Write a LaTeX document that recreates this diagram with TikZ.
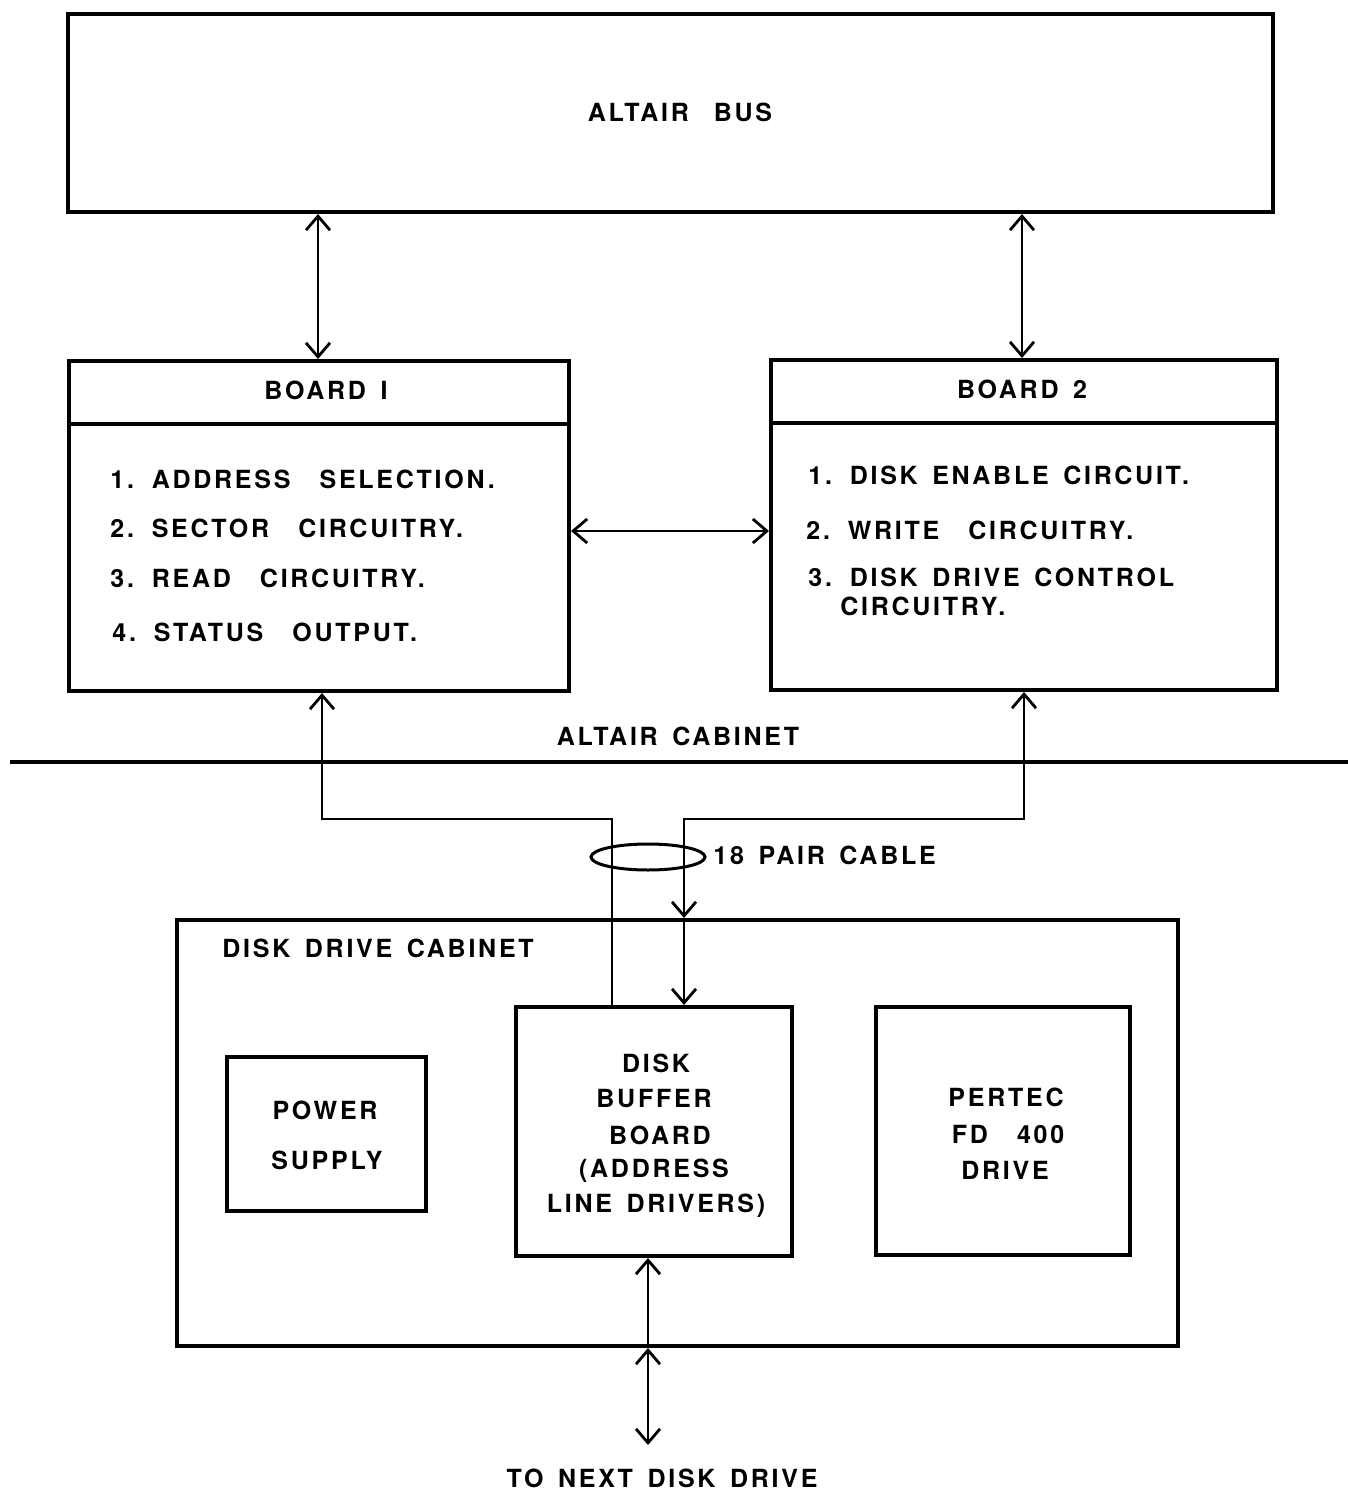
\documentclass[tikz,border=0pt]{standalone}
\usepackage{fontspec}
\newfontfamily\lettering{TeX Gyre Heros}[LetterSpace=11,WordSpace=1.5,UprightFont=*-Bold]
\usetikzlibrary{arrows.meta,shapes.geometric}
\begin{document}
\begin{tikzpicture}[x=0.5pt,y=-0.5pt,
  box/.style={draw,line width=2pt,inner sep=0pt,rectangle},
  lab/.style={font=\lettering\fontsize{12.5}{14}\selectfont,inner sep=0pt,anchor=base},
  labw/.style={lab,anchor=base west},
  arr/.style={line width=1.1pt,arrows={Straight Barb[length=7pt,width=12pt,line width=1.4pt]-Straight Barb[length=7pt,width=12pt,line width=1.4pt]}},
  arrs/.style={line width=1.1pt,arrows={Straight Barb[length=7pt,width=12pt,line width=1.4pt]-}},
  arre/.style={line width=1.1pt,arrows={-Straight Barb[length=7pt,width=12pt,line width=1.4pt]}},
  wire/.style={line width=1.1pt}]
\useasboundingbox (0,0) rectangle (1348,1493);
% boxes
\node[box,minimum width=602.5pt,minimum height=99pt] (bus) at (670.5,113) {};
\node[box,minimum width=250pt,minimum height=165pt] (b1) at (319,526) {};
\node[box,minimum width=253pt,minimum height=165pt] (b2) at (1024,525) {};
\node[box,minimum width=500.5pt,minimum height=213pt] (cab) at (677.5,1133) {};
\node[box,minimum width=99.5pt,minimum height=77pt] (ps) at (326.5,1134) {};
\node[box,minimum width=138pt,minimum height=124.5pt] (buf) at (654,1131.5) {};
\node[box,minimum width=127pt,minimum height=124pt] (fd) at (1003,1131) {};
% header dividers
\coordinate (d1) at (0,424);
\coordinate (d2) at (0,423);
\draw[line width=2pt] (b1.west |- d1) -- (b1.east |- d1);
\draw[line width=2pt] (b2.west |- d2) -- (b2.east |- d2);
% labels
\node[lab] (tbus) at (680,121) {ALTAIR\quad BUS};
\node[lab] (tb1) at (326,399) {BOARD I};
\node[lab] (tb2) at (1022,398) {BOARD 2};
\node[labw] (l11) at (110,488) {1. ADDRESS\ \ SELECTION.};
\node[labw] (l12) at (110,537) {2. SECTOR\ \ CIRCUITRY.};
\node[labw] (l13) at (110,587) {3. READ\ \ CIRCUITRY.};
\node[labw] (l14) at (112,641) {4. STATUS\ \ OUTPUT.};
\node[labw] (l21) at (808,484) {1. DISK ENABLE CIRCUIT.};
\node[labw] (l22) at (806,539) {2. WRITE\ \ CIRCUITRY.};
\node[labw] (l23) at (808,586) {3. DISK DRIVE CONTROL};
\node[labw] (l24) at (840,615) {CIRCUITRY.};
\node[lab] (tcab) at (678,745) {ALTAIR CABINET};
\node[labw] (tcable) at (713,864) {18 PAIR CABLE};
\node[labw] (tddc) at (222,957) {DISK DRIVE CABINET};
\node[lab] (p1) at (325,1119) {POWER};
\node[lab] (p2) at (327,1169) {SUPPLY};
\node[lab] (f1) at (656,1072) {DISK};
\node[lab] (f2) at (654,1107) {BUFFER};
\node[lab] (f3) at (660,1144) {BOARD};
\node[lab] (f4) at (654,1177) {(ADDRESS};
\node[lab] (f5) at (656,1212) {LINE DRIVERS)};
\node[lab] (g1) at (1006,1106) {PERTEC};
\node[lab] (g2) at (1008,1143) {FD\ \ 400};
\node[lab] (g3) at (1005,1179) {DRIVE};
\node[lab] (tnext) at (662,1487) {TO NEXT DISK DRIVE};
% cabinet separation line
\coordinate (cl) at (10,762);
\coordinate (cr) at (1348,762);
\draw[line width=1.6pt] (cl) -- (cr);
% connectors
\coordinate (x1) at (318,0);
\coordinate (x2) at (1022,0);
\coordinate (yh) at (0,531);
\draw[arr] (x1 |- bus.south) -- (x1 |- b1.north);
\draw[arr] (x2 |- bus.south) -- (x2 |- b2.north);
\draw[arr] (b1.east |- yh) -- (b2.west |- yh);
\coordinate (x3) at (322,0);
\coordinate (x4) at (1024,0);
\coordinate (k1) at (612,819);
\coordinate (k2) at (684,819);
\draw[arrs] (x3 |- b1.south) |- (k1) -- (k1 |- buf.north);
\draw[arr] (x4 |- b2.south) |- (k2) -- (k2 |- cab.north);
\draw[arre] (k2 |- cab.north) -- (k2 |- buf.north);
\node[draw,ellipse,line width=1.5pt,minimum width=57pt,minimum height=13pt,inner sep=0pt] (ell) at (648,857) {};
\coordinate (x5) at (648,0);
\coordinate (nx) at (648,1445);
\draw[arrs] (x5 |- buf.south) -- (x5 |- cab.south);
\draw[arr] (x5 |- cab.south) -- (nx);
\end{tikzpicture}
\end{document}
